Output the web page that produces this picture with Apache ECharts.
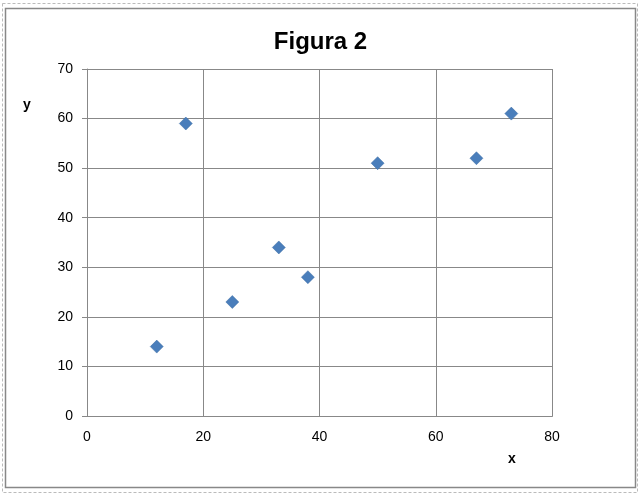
<!DOCTYPE html>
<html>
<head>
<meta charset="utf-8">
<script src="https://cdn.jsdelivr.net/npm/echarts@6/dist/echarts.min.js"></script>
<style>
  html, body { margin: 0; padding: 0; background: #fff; }
  #chart { width: 641px; height: 495px; }
</style>
</head>
<body>
<div id="chart"></div>
<script>
  // punti della Figura 2
  var xValues = [12, 17, 25, 33, 38, 50, 67, 73];
  var yValues = [14, 59, 23, 34, 28, 51, 52, 61];

  var points = xValues.map(function (x, i) { return [x, yValues[i]]; });

  var chart = echarts.init(document.getElementById('chart'));
  var font = 'Liberation Sans, Arial, sans-serif';

  chart.setOption({
    animation: false,
    title: {
      text: 'Figura 2',
      left: 'center',
      top: 25,
      textStyle: { fontFamily: font, fontSize: 24, fontWeight: 'bold', color: '#000' }
    },
    graphic: [
      {
        type: 'rect',
        shape: { x: 2.5, y: 3.5, width: 635, height: 489 },
        style: { fill: 'none', stroke: '#bbb', lineWidth: 1, lineDash: [3, 2] },
        silent: true
      },
      {
        type: 'rect',
        shape: { x: 5.5, y: 8.5, width: 630, height: 479 },
        style: { fill: 'none', stroke: '#888', lineWidth: 1.5 },
        silent: true
      },
      // bordo destro e superiore del riquadro
      {
        type: 'rect',
        shape: { x: 87.5, y: 69.5, width: 465, height: 347 },
        style: { fill: 'none', stroke: '#888', lineWidth: 1 },
        silent: true
      },
      {
        type: 'text',
        left: 23, top: 98,
        style: { text: 'y', font: 'bold 14px ' + font, fill: '#000' }
      },
      {
        type: 'text',
        left: 508, top: 452,
        style: { text: 'x', font: 'bold 14px ' + font, fill: '#000' }
      }
    ],
    grid: { left: 87, top: 69, width: 465, height: 347, containLabel: false },
    xAxis: {
      type: 'value',
      min: 0, max: 80, interval: 20,
      axisLine: { show: true, lineStyle: { color: '#888', width: 1 } },
      axisTick: { show: false },
      splitLine: { show: true, lineStyle: { color: '#888', width: 1 } },
      axisLabel: { color: '#000', fontFamily: font, fontSize: 14, margin: 14 }
    },
    yAxis: {
      type: 'value',
      min: 0, max: 70, interval: 10,
      axisLine: { show: true, lineStyle: { color: '#888', width: 1 } },
      axisTick: { show: true, length: 5, lineStyle: { color: '#888' } },
      splitLine: { show: true, lineStyle: { color: '#888', width: 1 } },
      axisLabel: { color: '#000', fontFamily: font, fontSize: 14, margin: 14 }
    },
    series: [{
      type: 'scatter',
      symbol: 'diamond',
      symbolSize: 13,
      itemStyle: { color: '#4a7ebb', borderColor: '#3d6ca3', borderWidth: 0.5, opacity: 1 },
      data: points
    }]
  });
</script>
</body>
</html>
